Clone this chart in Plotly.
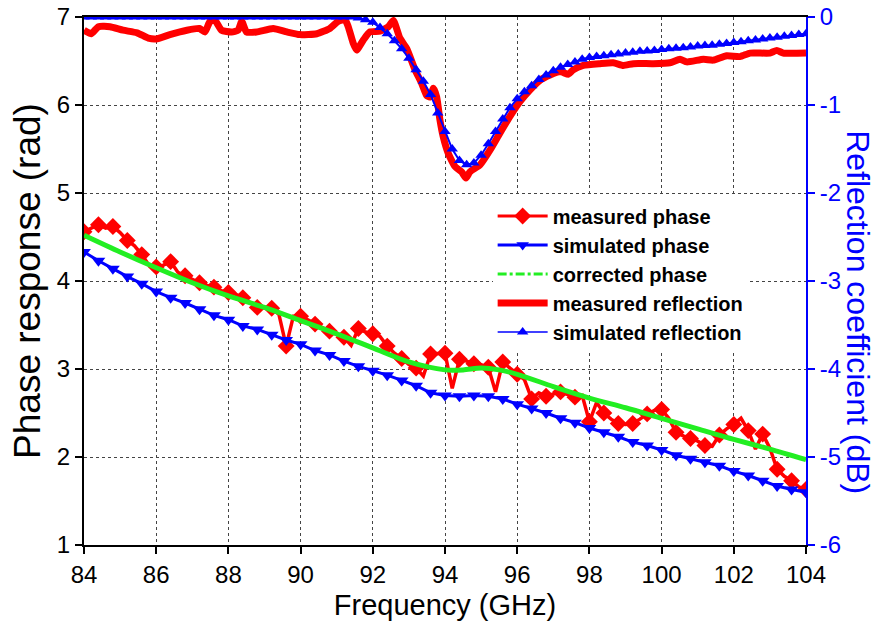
import plotly.graph_objects as go

# ---------------- data ----------------
freq = [round(84 + 0.2 * i, 1) for i in range(101)]

measured_phase = [
    4.56, 4.60, 4.64, 4.60, 4.62, 4.55, 4.46, 4.40, 4.30, 4.18,
    4.16, 4.18, 4.22, 4.10, 4.06, 4.01, 3.98, 3.95, 3.93, 3.89,
    3.87, 3.85, 3.81, 3.76, 3.70, 3.70, 3.69, 3.62, 3.26, 3.60,
    3.60, 3.56, 3.51, 3.47, 3.43, 3.40, 3.36, 3.27, 3.46, 3.42,
    3.40, 3.37, 3.26, 3.18, 3.12, 3.05, 3.01, 2.92, 3.17, 3.18,
    3.18, 2.78, 3.11, 3.09, 3.06, 3.05, 3.02, 2.74, 3.08, 3.01,
    2.94, 2.88, 2.66, 2.73, 2.69, 2.72, 2.74, 2.71, 2.68, 2.70,
    2.40, 2.62, 2.50, 2.43, 2.38, 2.37, 2.38, 2.43, 2.49, 2.53,
    2.54, 2.44, 2.28, 2.24, 2.21, 2.18, 2.13, 2.12, 2.25, 2.32,
    2.37, 2.44, 2.30, 2.09, 2.26, 2.10, 1.86, 1.78, 1.73, 1.66,
    1.63,
]

sim_phase_freq = [round(84 + 0.4 * i, 1) for i in range(51)]
sim_phase = [
    4.33, 4.23, 4.14, 4.05, 3.97, 3.88, 3.81, 3.75, 3.68, 3.61,
    3.56, 3.49, 3.45, 3.39, 3.33, 3.28, 3.21, 3.16, 3.09, 3.03,
    2.98, 2.93, 2.87, 2.81, 2.73, 2.70, 2.69, 2.70, 2.69, 2.66,
    2.60, 2.55, 2.50, 2.44, 2.39, 2.33, 2.28, 2.23, 2.17, 2.13,
    2.08, 2.02, 1.98, 1.94, 1.90, 1.84, 1.79, 1.73, 1.67, 1.63,
    1.60,
]

corr_freq = [84, 85, 86, 87, 88, 89, 90, 91, 92, 93, 94, 94.5, 95, 95.5,
             96, 97, 98, 99, 100, 101, 102, 103, 104]
corr_phase = [4.52, 4.33, 4.15, 3.98, 3.83, 3.70, 3.55, 3.40, 3.24, 3.08,
              2.99, 2.99, 3.01, 2.99, 2.94, 2.80, 2.67, 2.56, 2.44, 2.32,
              2.20, 2.09, 1.97]

meas_refl_freq = [
    84.0, 84.2, 84.4, 84.72, 85.08, 85.47, 85.78, 86.0, 86.38, 86.85,
    87.2, 87.35, 87.49, 87.63, 87.81, 88.09, 88.27, 88.37, 88.5, 88.78,
    89.24, 89.62, 89.98, 90.45, 90.81, 91.04, 91.23, 91.32, 91.46, 91.55,
    91.74, 91.92, 92.2, 92.43, 92.57, 92.75, 92.94, 93.17, 93.35, 93.49,
    93.58, 93.68, 93.77, 93.86, 93.95, 94.09, 94.28, 94.46, 94.58, 94.69,
    94.97, 95.25, 95.52, 95.8, 96.08, 96.35, 96.63, 96.91, 97.19, 97.42,
    97.55, 97.83, 98.29, 98.66, 98.94, 99.22, 99.77, 100.23, 100.51, 100.7,
    101.16, 101.43, 101.8, 102.17, 102.45, 103.0, 103.19, 103.37, 104.0,
]
meas_refl = [
    -0.15, -0.19, -0.11, -0.11, -0.15, -0.18, -0.24, -0.25, -0.20, -0.15,
    -0.13, -0.17, -0.05, -0.04, -0.15, -0.17, -0.15, -0.05, -0.17, -0.17,
    -0.13, -0.17, -0.20, -0.19, -0.13, -0.05, -0.03, -0.11, -0.30, -0.375,
    -0.26, -0.17, -0.16, -0.11, -0.04, -0.24, -0.36, -0.60, -0.75, -0.89,
    -0.91, -0.81, -0.91, -1.17, -1.36, -1.55, -1.70, -1.76, -1.83, -1.76,
    -1.68, -1.51, -1.32, -1.13, -0.96, -0.83, -0.72, -0.66, -0.62, -0.65,
    -0.60, -0.55, -0.53, -0.52, -0.55, -0.53, -0.53, -0.52, -0.48, -0.51,
    -0.48, -0.49, -0.44, -0.45, -0.41, -0.41, -0.38, -0.41, -0.41,
]

sim_refl = [0.0] * 38 + [
    -0.01, -0.03, -0.06, -0.12, -0.19, -0.27, -0.36, -0.47, -0.60, -0.73,
    -0.88, -1.09, -1.30, -1.50, -1.63, -1.68, -1.66, -1.57, -1.44, -1.30,
    -1.16, -1.03, -0.93, -0.85, -0.78, -0.71, -0.66, -0.61, -0.57, -0.54,
    -0.51, -0.48, -0.46,
    -0.45, -0.44, -0.43, -0.42, -0.41, -0.40, -0.39, -0.385, -0.38, -0.37,
    -0.36, -0.355, -0.35, -0.34, -0.33, -0.325, -0.32, -0.31, -0.30, -0.29,
    -0.28, -0.27, -0.26, -0.25, -0.24, -0.23, -0.22, -0.21, -0.20, -0.19,
]

x_ticks = [84, 86, 88, 90, 92, 94, 96, 98, 100, 102, 104]
y_ticks = [1, 2, 3, 4, 5, 6, 7]
y2_ticks = [-6, -5, -4, -3, -2, -1, 0]
y2_labels = ["-6", "-5", "-4", "-3", "-2", "-1", "0"]

# ---------------- styles ----------------
RED = "#ff0000"
BLUE = "#0000ff"
GREEN = "#22ee22"
FONT = "Liberation Sans, Arial, sans-serif"

diamond_sizes = [13 if i % 2 == 0 else 0 for i in range(len(freq))]

fig = go.Figure()

fig.add_trace(go.Scatter(
    x=freq, y=measured_phase, mode="lines+markers", showlegend=False,
    line=dict(color=RED, width=3.5),
    marker=dict(symbol="diamond", size=diamond_sizes, color=RED, opacity=1,
                line=dict(width=0)),
))
fig.add_trace(go.Scatter(
    x=sim_phase_freq, y=sim_phase, mode="lines+markers", showlegend=False,
    line=dict(color=BLUE, width=3),
    marker=dict(symbol="triangle-down", size=12, color=BLUE, opacity=1,
                line=dict(width=0)),
))
fig.add_trace(go.Scatter(
    x=corr_freq, y=corr_phase, mode="lines", showlegend=False,
    line=dict(color=GREEN, width=5, shape="spline", smoothing=0.8),
))
fig.add_trace(go.Scatter(
    x=meas_refl_freq, y=meas_refl, mode="lines", showlegend=False, yaxis="y2",
    line=dict(color=RED, width=7, shape="spline", smoothing=0.5),
))
fig.add_trace(go.Scatter(
    x=freq, y=sim_refl, mode="lines+markers", showlegend=False, yaxis="y2",
    line=dict(color=BLUE, width=2),
    marker=dict(symbol="triangle-up", size=10, color=BLUE, opacity=1,
                line=dict(width=0)),
))

# legend proxies
fig.add_trace(go.Scatter(x=[None], y=[None], mode="lines+markers", name="measured phase",
                         line=dict(color=RED, width=3),
                         marker=dict(symbol="diamond", size=13, color=RED)))
fig.add_trace(go.Scatter(x=[None], y=[None], mode="lines+markers", name="simulated phase",
                         line=dict(color=BLUE, width=3),
                         marker=dict(symbol="triangle-down", size=11, color=BLUE)))
fig.add_trace(go.Scatter(x=[None], y=[None], mode="lines", name="corrected phase",
                         line=dict(color=GREEN, width=3, dash="dashdot")))
fig.add_trace(go.Scatter(x=[None], y=[None], mode="lines", name="measured reflection",
                         line=dict(color=RED, width=7)))
fig.add_trace(go.Scatter(x=[None], y=[None], mode="lines+markers", name="simulated reflection",
                         yaxis="y2", line=dict(color=BLUE, width=1.5),
                         marker=dict(symbol="triangle-up", size=10, color=BLUE)))

fig.update_layout(
    width=883, height=632,
    margin=dict(l=84, r=77, t=17, b=87, autoexpand=False),
    paper_bgcolor="white", plot_bgcolor="white",
    font=dict(family=FONT, color="black"),
    showlegend=True,
    legend=dict(
        x=0.566, y=0.66, xanchor="left", yanchor="top",
        bgcolor="white", borderwidth=0,
        font=dict(family=FONT, size=20, color="black", weight="bold"),
        itemwidth=50, tracegroupgap=0,
    ),
    xaxis=dict(
        range=[84, 104], tickvals=x_ticks, ticktext=[str(v) for v in x_ticks],
        showgrid=True, gridcolor="#444", griddash="dot", gridwidth=1,
        showline=True, linecolor="black", linewidth=2, mirror=True,
        ticks="outside", ticklen=7, tickwidth=2, tickcolor="black",
        tickfont=dict(size=24), zeroline=False,
        title=dict(text="Frequency (GHz)", font=dict(size=29), standoff=8),
    ),
    yaxis=dict(
        range=[1, 7], tickvals=y_ticks, ticktext=[str(v) for v in y_ticks],
        showgrid=True, gridcolor="#444", griddash="dot", gridwidth=1,
        showline=True, linecolor="black", linewidth=2,
        ticks="outside", ticklen=7, tickwidth=2, tickcolor="black",
        tickfont=dict(size=24), zeroline=False,
        title=dict(text="Phase response (rad)", font=dict(size=37), standoff=5),
    ),
    yaxis2=dict(
        range=[-6, 0], tickvals=y2_ticks, ticktext=y2_labels,
        overlaying="y", side="right",
        showgrid=False, zeroline=False,
        showline=True, linecolor=BLUE, linewidth=2,
        ticks="outside", ticklen=7, tickwidth=2, tickcolor=BLUE,
        tickfont=dict(size=24, color=BLUE),
    ),
    annotations=[dict(
        text="Reflection coefficient (dB)", textangle=90,
        xref="paper", yref="paper", x=1, y=0.441,
        xanchor="center", yanchor="middle", xshift=52, showarrow=False,
        font=dict(family=FONT, size=32, color=BLUE),
    )],
)

fig.write_html("out.html", config={"displayModeBar": False},
               post_script="document.body.style.margin='0';")
